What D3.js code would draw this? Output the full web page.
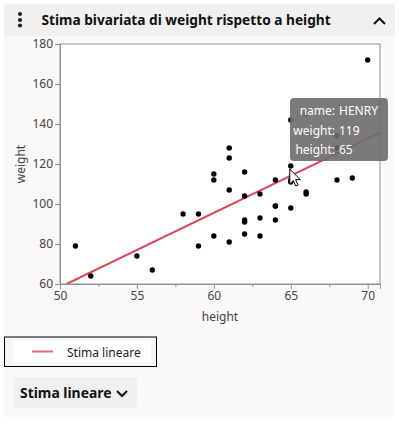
<!DOCTYPE html>
<html><head><meta charset="utf-8">
<script src="https://cdn.jsdelivr.net/npm/d3@7"></script>
<style>
html,body{margin:0;padding:0;background:#fff;}
svg{display:block;font-family:"Noto Sans","Open Sans",sans-serif;}
</style></head>
<body>
<svg id="c" width="399" height="424"></svg>
<script>
// Data
const names   = ["KATIE","LOUISE","JANE","JACLYN","LILLIE","TIM","JAMES","ROBERT","BARBARA","ALICE","SUSAN","JOHN","JOE","MICHAEL","DAVID","JUDY","ELIZABETH","LESLIE","CAROL","PATTY","FREDERICK","ALFRED","HENRY","LEWIS","EDWARD","CHRIS","JEFFREY","MARY","AMY","ROBERT","WILLIAM","CLAY","MARK","DANNY","MARTHA","MARION","PHILLIP","LINDA","KIRK","LAWRENCE"];
const heights = [59,61,55,66,52,60,61,51,60,61,56,65,63,58,59,61,62,65,63,62,63,64,65,64,68,64,69,62,64,67,65,66,62,66,65,60,68,62,68,70];
const weights = [95,123,74,145,64,84,128,79,112,107,67,98,105,95,79,81,91,142,84,85,93,99,119,92,112,99,113,92,112,128,111,105,104,106,112,115,128,116,134,172];
const xTicks = [50,55,60,65,70];
const xMinor = [52.5,57.5,62.5,67.5];
const yTicks = [60,80,100,120,140,160,180];
const title = "Stima bivariata di weight rispetto a height";
const fitName = "Stima lineare";
const hovered = 22; // HENRY

const svg = d3.select("#c");
const axisCol = "#8c9299", lineCol = "#d9475a";

// backgrounds
svg.append("rect").attr("x",4).attr("y",36).attr("width",390).attr("height",381).attr("fill","#f9f9f9");
svg.append("rect").attr("x",4).attr("y",4).attr("width",391).attr("height",32).attr("fill","#f0f0f0").attr("rx",2);

// header
[14,20,25.5].forEach(cy=>svg.append("circle").attr("cx",20).attr("cy",cy).attr("r",2.1).attr("fill","#222"));
svg.append("text").attr("x",41.5).attr("y",25).attr("font-size",13.7).attr("font-weight","bold").attr("fill","#111").text(title);
svg.append("path").attr("d","M374,24 L379.5,18.5 L385,24").attr("fill","none").attr("stroke","#111").attr("stroke-width",2);

// scales
const x = d3.scaleLinear().domain([50,70.8]).range([60,380]);
const y = d3.scaleLinear().domain([60,180]).range([284,44]);

svg.append("rect").attr("x",60).attr("y",44).attr("width",320).attr("height",240).attr("fill","#fff").attr("stroke",axisCol).attr("stroke-width",1);

svg.append("g").attr("transform","translate(0,284)")
  .call(d3.axisBottom(x).tickValues(xTicks).tickSize(5).tickPadding(2).tickFormat(d3.format("d")));
svg.append("g").attr("transform","translate(0,284)")
  .call(d3.axisBottom(x).tickValues(xMinor).tickSize(3).tickFormat(""));
svg.append("g").attr("transform","translate(60,0)")
  .call(d3.axisLeft(y).tickValues(yTicks).tickSize(5).tickPadding(2));
svg.selectAll(".domain").attr("stroke",axisCol);
svg.selectAll(".tick line").attr("stroke",axisCol);
svg.selectAll(".tick text").attr("fill","#444").attr("font-size",12).attr("font-family","Noto Sans");

svg.append("text").attr("x",220).attr("y",321).attr("text-anchor","middle").attr("font-size",12).attr("fill","#444").text("height");
svg.append("text").attr("transform","translate(25,164) rotate(-90)").attr("text-anchor","middle").attr("font-size",12).attr("fill","#444").text("weight");

// linear fit (least squares)
const mx = d3.mean(heights), my = d3.mean(weights);
const b = d3.sum(heights.map((h,i)=>(h-mx)*(weights[i]-my))) / d3.sum(heights.map(h=>(h-mx)*(h-mx)));
const a = my - b*mx;
const x0 = (60 - a)/b, x1 = 70.8;
svg.append("defs").append("clipPath").attr("id","clip").append("rect").attr("x",60).attr("y",44).attr("width",320).attr("height",240);
svg.append("line").attr("clip-path","url(#clip)")
  .attr("x1",x(x0)).attr("y1",y(a+b*x0)).attr("x2",x(x1)).attr("y2",y(a+b*x1))
  .attr("stroke",lineCol).attr("stroke-width",2);

// points
svg.append("g").selectAll("circle").data(heights).join("circle")
  .attr("cx",(d)=>x(d)).attr("cy",(d,i)=>y(weights[i])).attr("r",2.7).attr("fill","#000");

// tooltip
const tt = svg.append("g");
tt.append("rect").attr("x",290).attr("y",98).attr("width",98).attr("height",63).attr("rx",4).attr("fill","#6b6b6b").attr("opacity",0.9);
const rows = [["name:",names[hovered]],["weight:",weights[hovered]],["height:",heights[hovered]]];
rows.forEach((r,i)=>{
  tt.append("text").attr("x",335).attr("y",115+i*19.7).attr("text-anchor","end").attr("font-size",12).attr("fill","#fff").text(r[0]);
  tt.append("text").attr("x",339).attr("y",115+i*19.7).attr("font-size",12).attr("fill","#fff").text(r[1]);
});
// mouse cursor
const cx = x(heights[hovered])-1, cy = y(weights[hovered])+3;
svg.append("path").attr("transform",`translate(${cx},${cy})`)
  .attr("d","M0,0 L0,15 L3.5,11.5 L6,17 L8.3,16 L5.8,10.6 L10.5,10.6 Z")
  .attr("fill","#fff").attr("stroke","#000").attr("stroke-width",1).attr("stroke-linejoin","round");

// legend
svg.append("rect").attr("x",4.5).attr("y",337).attr("width",152).attr("height",29.5).attr("fill","#f6f6f6").attr("stroke","#000").attr("stroke-width",1);
svg.append("rect").attr("x",13).attr("y",341).attr("width",138).attr("height",21).attr("fill","#fff");
svg.append("line").attr("x1",32).attr("x2",53).attr("y1",351.5).attr("y2",351.5).attr("stroke",lineCol).attr("stroke-width",2).attr("opacity",0.8);
svg.append("text").attr("x",67).attr("y",356.5).attr("font-size",12).attr("fill","#222").text(fitName);

// button
svg.append("rect").attr("x",14).attr("y",377).attr("width",123).attr("height",31).attr("rx",3).attr("fill","#f0f0f0");
svg.append("text").attr("x",20).attr("y",398).attr("font-size",13.9).attr("font-weight","bold").attr("fill","#111").text(fitName);
svg.append("path").attr("d","M117,391 L122,396 L127,391").attr("fill","none").attr("stroke","#111").attr("stroke-width",2);
</script>
</body></html>
